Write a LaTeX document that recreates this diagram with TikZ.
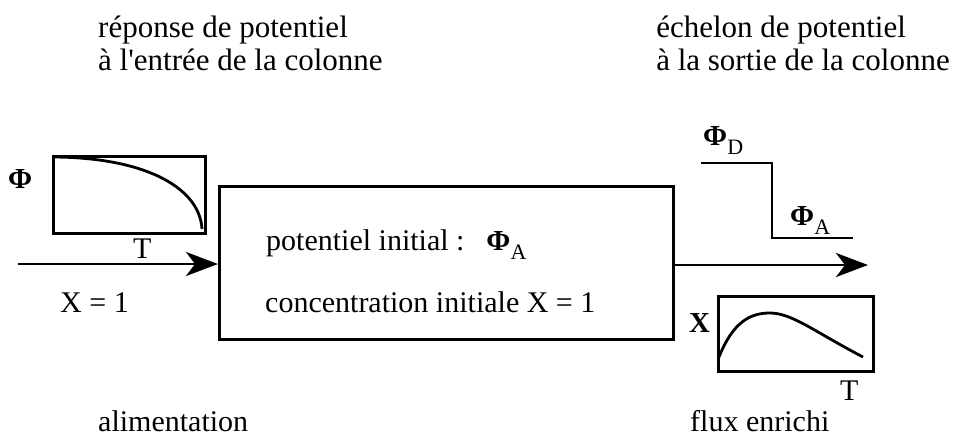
\documentclass[tikz,border=0pt]{standalone}
\usepackage{fontspec}
\setmainfont{Liberation Serif}
\usetikzlibrary{arrows.meta}
\tikzset{
  lbl/.style={inner sep=0pt, anchor=base west, font=\fontsize{30}{36}\selectfont},
  title/.style={lbl, font=\fontsize{31}{36}\selectfont},
  frame/.style={draw, line width=2.7pt, inner sep=0pt, anchor=north west},
  flow/.style={line width=2.8pt, -{Stealth[length=32pt,width=24pt,inset=9pt]}},
  trace/.style={line width=2.8pt},
}
\newcommand{\sub}[1]{\raisebox{-9pt}{\fontsize{22}{22}\selectfont #1}}
\newcommand{\phisym}{{\fontsize{29}{30}\selectfont\bfseries Φ}}
\begin{document}
\begin{tikzpicture}[x=1pt,y=-1pt]
\useasboundingbox (0,0) rectangle (964,437);
% titles
\node[title] (inl1) at (98,37) {réponse de potentiel};
\node[title] (inl2) at (98,70) {à l\textquotesingle entrée de la colonne};
\node[title, anchor=base east] (outl2) at (950,70) {à la sortie de la colonne};
\node[title] (outl1) at ([yshift=33pt]outl2.base west) {échelon de potentiel};
% boxes
\node[frame, minimum width=152pt, minimum height=77pt] (inbox) at (52,155) {};
\node[frame, minimum width=454pt, minimum height=153pt] (column) at (218,185) {};
\node[frame, minimum width=155pt, minimum height=75pt] (outbox) at (717,295) {};
% curves
\draw[trace] (55,157) .. controls (150,158) and (200,190) .. (202,229);
\draw[trace] (719,357) .. controls (733,322) and (750,313) .. (770,313)
  .. controls (792,313) and (815,332) .. (863,357);
% step
\coordinate (s1) at (701,163);
\coordinate (s2) at (772,163);
\coordinate (s3) at (772,238);
\coordinate (s4) at (853,238);
\draw[trace] (s1) -- (s2) -- (s3) -- (s4);
% flows
\coordinate (src) at (18,264);
\coordinate (sink) at (868,265);
\draw[flow] (src) -- (src -| column.west);
\draw[flow] (sink -| column.east) -- (sink);
% labels
\node[lbl] (phiin) at (8,188) {\phisym};
\node[lbl] (tin) at (133,258) {T};
\node[lbl] (xfeed) at (60,312) {X = 1};
\node[lbl] (phiinit) at (266,250) {potentiel initial :\hspace{22pt}\phisym\sub{A}};
\node[lbl] (xinit) at (265,312) {concentration initiale X = 1};
\node[lbl] (phid) at (703,145) {\phisym\sub{D}};
\node[lbl] (phia) at (790,225) {\phisym\sub{A}};
\node[lbl, font=\fontsize{29}{36}\selectfont\bfseries] (xout) at (689,332) {X};
\node[lbl] (tout) at (840,400) {T};
\node[lbl] (feed) at (98,431) {alimentation};
\node[lbl] (enriched) at (690,431) {flux enrichi};
\end{tikzpicture}
\end{document}
